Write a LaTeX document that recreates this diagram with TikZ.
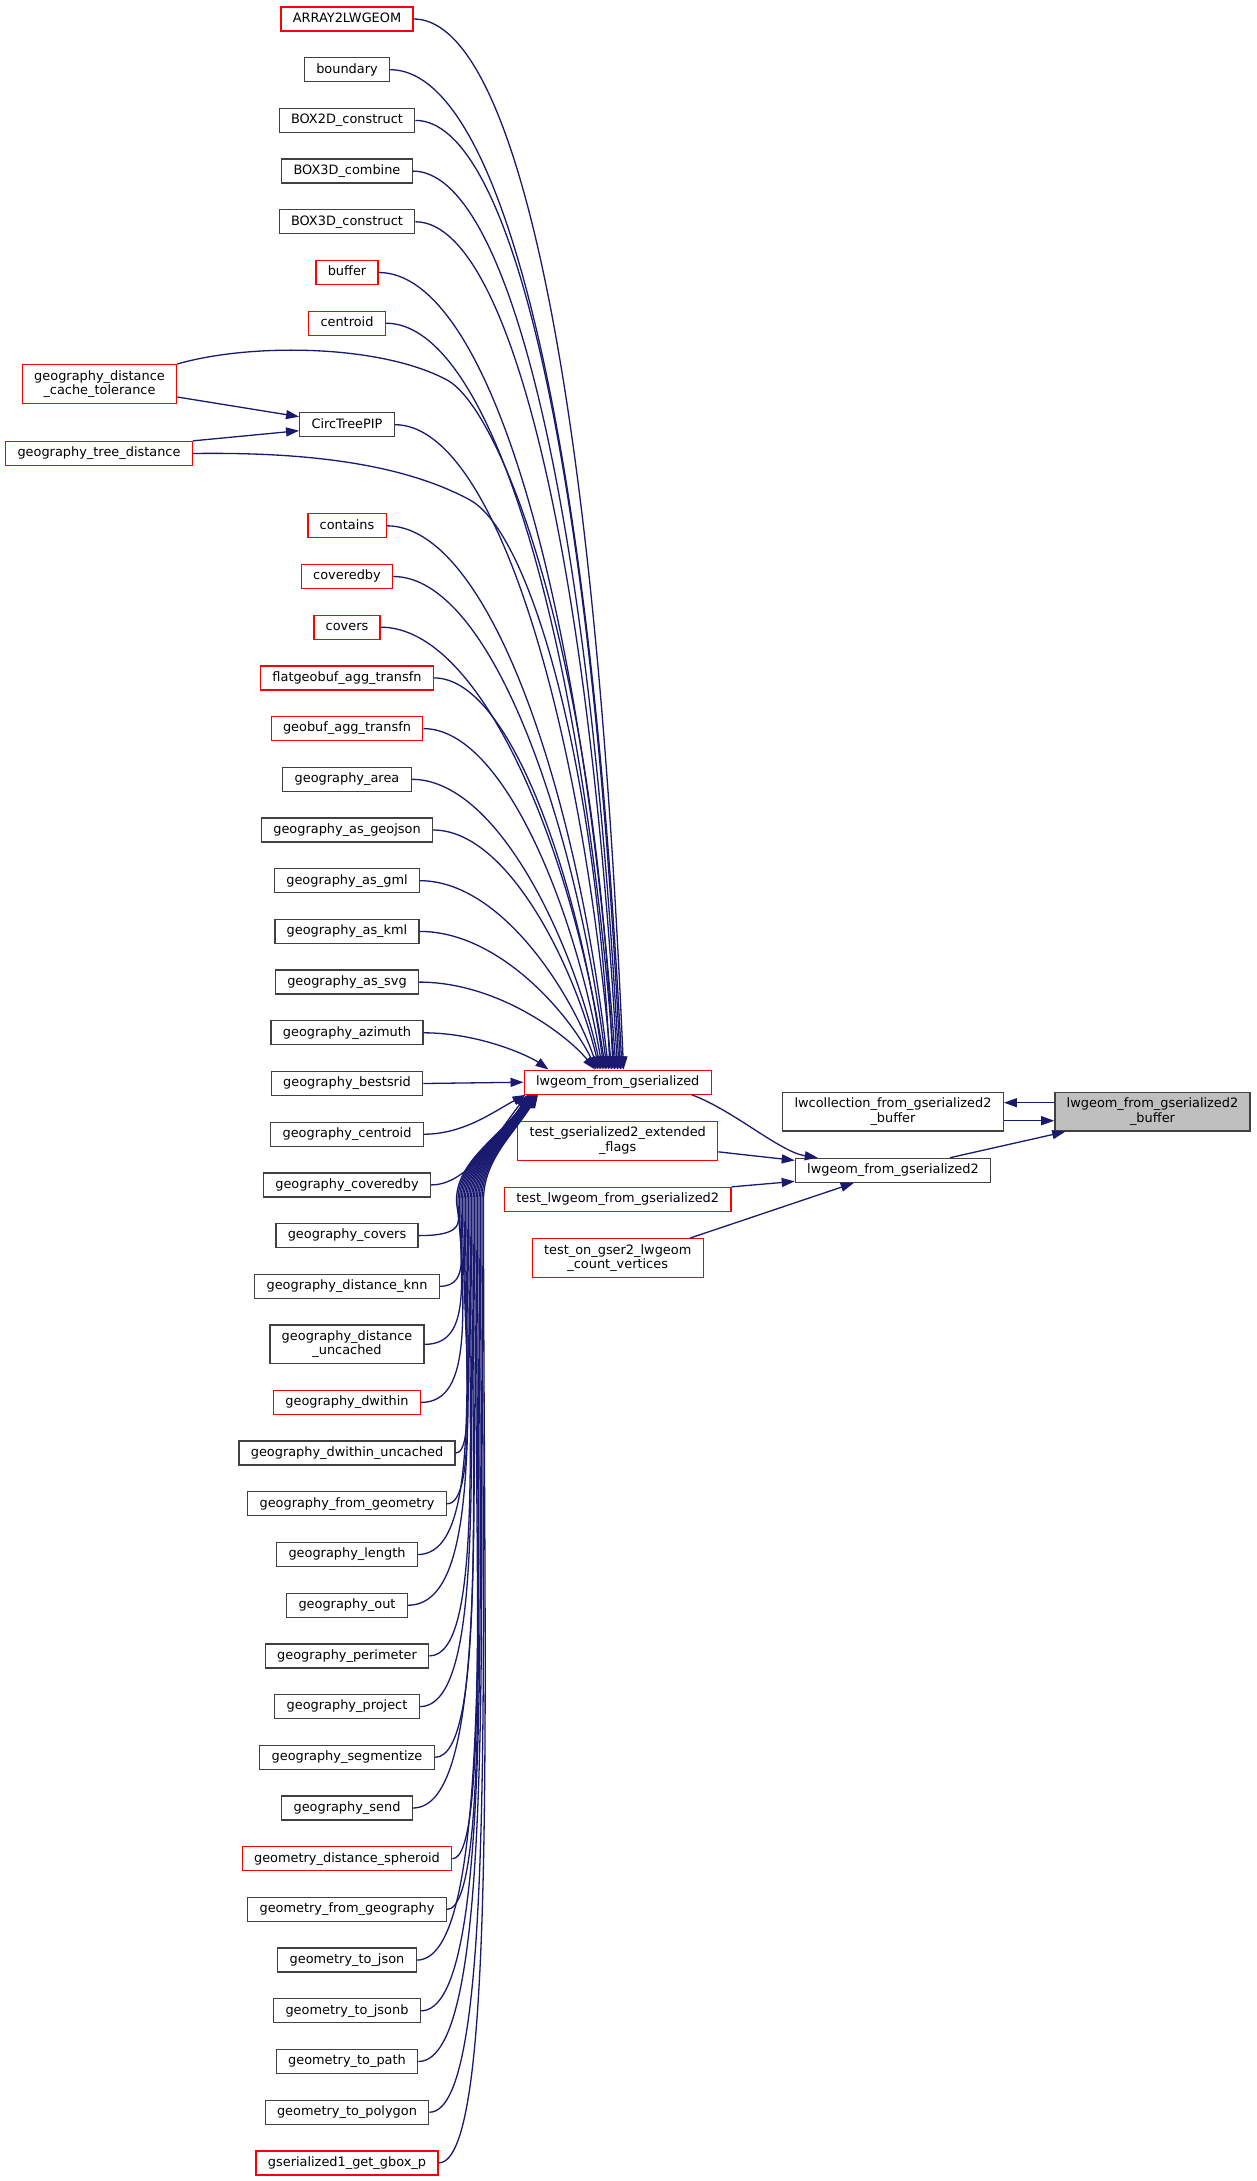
\documentclass[tikz,border=0pt]{standalone}
\usepackage{fontspec}
\newfontfamily\dejavu{DejaVu Sans}
\usepackage{xcolor}
\usetikzlibrary{positioning,calc,arrows.meta}
\definecolor{edgeblue}{HTML}{191970}
\definecolor{boxgrey}{HTML}{404040}
\definecolor{boxred}{HTML}{FF0000}
\definecolor{rootfill}{HTML}{BFBFBF}

\tikzset{
  box/.style={draw=boxgrey, line width=1.3pt, fill=white, inner xsep=11.85pt, inner ysep=0pt,
    font=\dejavu\fontsize{12.9}{14.5}\selectfont},
  fn/.style={box, minimum height=24pt, text height=9.8pt, text depth=3.1pt},
  fnn/.style={box, minimum height=38.7pt, align=center},
  cut/.style={draw=boxred},
  root/.style={fill=rootfill},
  call/.style={draw=edgeblue, line width=1.3pt, -{Triangle[length=13pt,width=9pt]}},
}

\begin{document}
\begin{tikzpicture}[x=1pt, y=-1pt, node distance=25.4pt]
\useasboundingbox[fill=white] (0,0) rectangle (1257,2181);
% nodes
 \node[fn, cut] (array) at (347,19) {ARRAY2LWGEOM};
 \node[fn, below=of array] (boundary) {boundary};
 \node[fn, below=of boundary] (box2d) {BOX2D\_construct};
 \node[fn, below=of box2d] (box3dc) {BOX3D\_combine};
 \node[fn, below=of box3dc] (box3dn) {BOX3D\_construct};
 \node[fn, cut, below=of box3dn] (buffer) {buffer};
 \node[fn, cut, below=of buffer] (centroid) {centroid};
 \node[fn, below=76.2pt of centroid] (circtree) {CircTreePIP};
 \node[fn, cut, below=75.8pt of circtree] (contains) {contains};
 \node[fn, cut, below=of contains] (coveredby) {coveredby};
 \node[fn, cut, below=of coveredby] (covers) {covers};
 \node[fn, cut, below=of covers] (flatgeobuf) {flatgeobuf\_agg\_transfn};
 \node[fn, cut, below=of flatgeobuf] (geobuf) {geobuf\_agg\_transfn};
 \node[fn, below=of geobuf] (area) {geography\_area};
 \node[fn, below=of area] (geojson) {geography\_as\_geojson};
 \node[fn, below=of geojson] (gml) {geography\_as\_gml};
 \node[fn, below=of gml] (kml) {geography\_as\_kml};
 \node[fn, below=of kml] (svg) {geography\_as\_svg};
 \node[fn, below=of svg] (azimuth) {geography\_azimuth};
 \node[fn, below=of azimuth] (bestsrid) {geography\_bestsrid};
 \node[fn, below=of bestsrid] (gcentroid) {geography\_centroid};
 \node[fn, below=of gcentroid] (gcoveredby) {geography\_coveredby};
 \node[fn, below=of gcoveredby] (gcovers) {geography\_covers};
 \node[fn, below=of gcovers] (knn) {geography\_distance\_knn};
 \node[fnn, below=of knn] (uncached) {geography\_distance\\\_uncached};
 \node[fn, cut, below=of uncached] (dwithin) {geography\_dwithin};
 \node[fn, below=of dwithin] (dwithinunc) {geography\_dwithin\_uncached};
 \node[fn, below=of dwithinunc] (fromgeom) {geography\_from\_geometry};
 \node[fn, below=of fromgeom] (glength) {geography\_length};
 \node[fn, below=of glength] (gout) {geography\_out};
 \node[fn, below=of gout] (perimeter) {geography\_perimeter};
 \node[fn, below=of perimeter] (project) {geography\_project};
 \node[fn, below=of project] (segmentize) {geography\_segmentize};
 \node[fn, below=of segmentize] (send) {geography\_send};
 \node[fn, cut, below=of send] (spheroid) {geometry\_distance\_spheroid};
 \node[fn, below=of spheroid] (fromgeog) {geometry\_from\_geography};
 \node[fn, below=of fromgeog] (tojson) {geometry\_to\_json};
 \node[fn, below=of tojson] (tojsonb) {geometry\_to\_jsonb};
 \node[fn, below=of tojsonb] (topath) {geometry\_to\_path};
 \node[fn, below=of topath] (topolygon) {geometry\_to\_polygon};
 \node[fn, cut, below=of topolygon] (gbox) {gserialized1\_get\_gbox\_p};

 \node[fnn, cut] (cachetol) at (99.5,384) {geography\_distance\\\_cache\_tolerance};
 \node[fn, cut] (treedist) at (99,453.5) {geography\_tree\_distance};

 \node[fn, cut] (lwg) at (617.7,1082.2) {lwgeom\_from\_gserialized};
 \node[fnn, cut, below=26pt of lwg] (testflags) {test\_gserialized2\_extended\\\_flags};
 \node[fn, cut, below=26pt of testflags] (testlwg) {test\_lwgeom\_from\_gserialized2};
 \node[fnn, cut, below=26pt of testlwg] (testcount) {test\_on\_gser2\_lwgeom\\\_count\_vertices};

 \node[fnn] (lwcoll) at (893,1111.7) {lwcollection\_from\_gserialized2\\\_buffer};
 \node[fn, below=26pt of lwcoll] (lwg2) {lwgeom\_from\_gserialized2};
 \node[fnn, root] (buf) at (1152.5,1111.7) {lwgeom\_from\_gserialized2\\\_buffer};

% edges
 % callers above lwgeom_from_gserialized
 \foreach \src/\off in {array/100, boundary/98.5, box2d/97, box3dc/95.5, box3dn/94, buffer/92.5,
   centroid/91, circtree/88, contains/85, coveredby/83.5, covers/82, flatgeobuf/80.5, geobuf/79,
   area/77.5, geojson/76, gml/74.5, kml/73, svg/71.5, azimuth/25}
  \draw[call] let \p1=(\src.east), \p2=([xshift=\off pt]lwg.north west),
   \p3=({\x1+0.45*(\x2-\x1)},\y1),
   \p4=({\x2-0.15*(\x2-\x1)},{\y2+(0.35+(\y1-\y2)/3000)*(\y1-\y2)}) in
   (\p1) .. controls (\p3) and (\p4) .. (\p2);
 \draw[call] (cachetol.north east) .. controls (250,343) and (380,344) .. (447,380)
   .. controls (500,408) and (595,650) .. ([xshift=89.5pt]lwg.north west);
 \draw[call] (treedist.east) .. controls (300,452) and (400,462) .. (470,500)
   .. controls (530,533) and (595,760) .. ([xshift=86.5pt]lwg.north west);
 \draw[call] (bestsrid.east) -- (lwg.west);
 % callers below
 \foreach \src/\off in {gcentroid/2, gcoveredby/4}
  \draw[call] let \p1=(\src.east), \p2=([xshift=\off pt]lwg.south west),
   \p3=({\x1+0.4*(\x2-\x1)},\y1),
   \p4=({\x2-0.3*(\x2-\x1)},{\y2-0.4*(\y2-\y1)}) in
   (\p1) .. controls (\p3) and (\p4) .. (\p2);
 \foreach \src [count=\j] in {gcovers, knn, uncached, dwithin, dwithinunc, fromgeom, glength, gout,
   perimeter, project, segmentize, send, spheroid, fromgeog, tojson, tojsonb, topath, topolygon, gbox}
  \draw[call] let \p1=(\src.east), \p2=([xshift={4pt+0.55pt*\j}]lwg.south west),
   \n1={470pt+1.5pt*\j}, \n2={455pt+1.5pt*\j}, \p5=(\n2,-1200pt),
   \p3=(\n1,\y1), \p4=(\n2,{0.5*\y1+0.5*\y5}),
   \p6=(\n2,-1160pt), \p7=({\x2-25pt},{\y2-40pt}) in
   (\p1) .. controls (\p3) and (\p4) .. (\p5) .. controls (\p6) and (\p7) .. (\p2);

 \draw[call] ([yshift=-13pt]cachetol.east) -- ([yshift=8pt]circtree.west);
 \draw[call] (treedist.north east) -- ([yshift=-6pt]circtree.west);

 \draw[call] ([xshift=-20pt]lwg.south east) .. controls (733,1110) and (780,1152)
   .. ([xshift=23pt]lwg2.north west);
 \draw[call] ([yshift=-11pt]testflags.east) -- ([yshift=10pt]lwg2.west);
 \draw[call] (testlwg.north east) -- ([yshift=-11pt]lwg2.west);
 \draw[call] ([xshift=-14pt]testcount.north east) -- ([xshift=59pt]lwg2.south west);

 \draw[call] ([xshift=57pt]lwg2.north) -- ([xshift=11pt]buf.south west);
 \draw[call] ([yshift=9pt]buf.west) -- ([yshift=9pt]lwcoll.east);
 \draw[call] ([yshift=-9pt]lwcoll.east) -- ([yshift=-9pt]buf.west);
\end{tikzpicture}
\end{document}
